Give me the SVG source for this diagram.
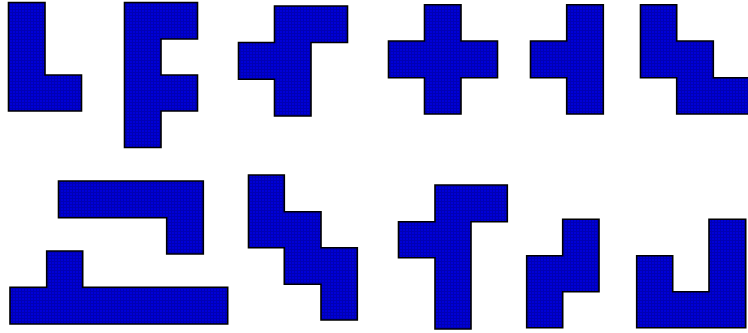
<svg xmlns="http://www.w3.org/2000/svg" width="748" height="333" viewBox="0 0 748 333">
<defs>
<pattern id="tex" width="3" height="3" patternUnits="userSpaceOnUse">
<rect width="3" height="3" fill="#0000D8"/>
<rect width="3" height="1" fill="#0000B4"/>
<rect width="1" height="3" fill="#0000B4"/>
</pattern>
</defs>
<style>
.pc{fill:url(#tex);stroke:#000;stroke-width:1.6;stroke-linejoin:miter}
</style>
<rect width="748" height="333" fill="#fff"/>
<g id="p1"><polygon class="pc" points="8.5,2.5 45,2.5 45,75 81.5,75 81.5,111 8.5,111"/></g>
<g id="p2"><polygon class="pc" points="124.5,2.5 197.5,2.5 197.5,39 161,39 161,75 197.5,75 197.5,111 161,111 161,147.5 124.5,147.5"/></g>
<g id="p3"><polygon class="pc" points="274.5,6 347.5,6 347.5,42.5 311,42.5 311,116 274.5,116 274.5,79.3 238.5,79.3 238.5,42.5 274.5,42.5"/></g>
<g id="p4"><polygon class="pc" points="424.5,4.7 461,4.7 461,41 497.5,41 497.5,77.7 461,77.7 461,114 424.5,114 424.5,77.7 388.5,77.7 388.5,41 424.5,41"/></g>
<g id="p5"><polygon class="pc" points="566.7,4.7 603.3,4.7 603.3,114 566.7,114 566.7,77.7 530.5,77.7 530.5,41 566.7,41"/></g>
<g id="p6"><polygon class="pc" points="640.5,4.7 676.7,4.7 676.7,41 713.3,41 713.3,77.7 752,77.7 752,114 676.7,114 676.7,77.7 640.5,77.7"/></g>
<g id="p7"><polygon class="pc" points="58.5,181 203.3,181 203.3,254 166.7,254 166.7,217.7 58.5,217.7"/></g>
<g id="p8"><polygon class="pc" points="46.7,251 82.7,251 82.7,287.3 227.7,287.3 227.7,324 10,324 10,287.3 46.7,287.3"/></g>
<g id="p9"><polygon class="pc" points="248.5,175 284.3,175 284.3,211.7 321,211.7 321,247.7 357.3,247.7 357.3,320 321,320 321,284.3 284.3,284.3 284.3,247.7 248.5,247.7"/></g>
<g id="p10"><polygon class="pc" points="435,185 507.3,185 507.3,221.7 471,221.7 471,329 435,329 435,257.7 398.5,257.7 398.5,221.7 435,221.7"/></g>
<g id="p11"><polygon class="pc" points="562.7,219.3 599,219.3 599,291.7 562.7,291.7 562.7,327.7 526.7,327.7 526.7,255.7 562.7,255.7"/></g>
<g id="p12"><polygon class="pc" points="709,219.3 745.7,219.3 745.7,327.7 636.7,327.7 636.7,255.7 672.7,255.7 672.7,291.7 709,291.7"/></g>
</svg>
